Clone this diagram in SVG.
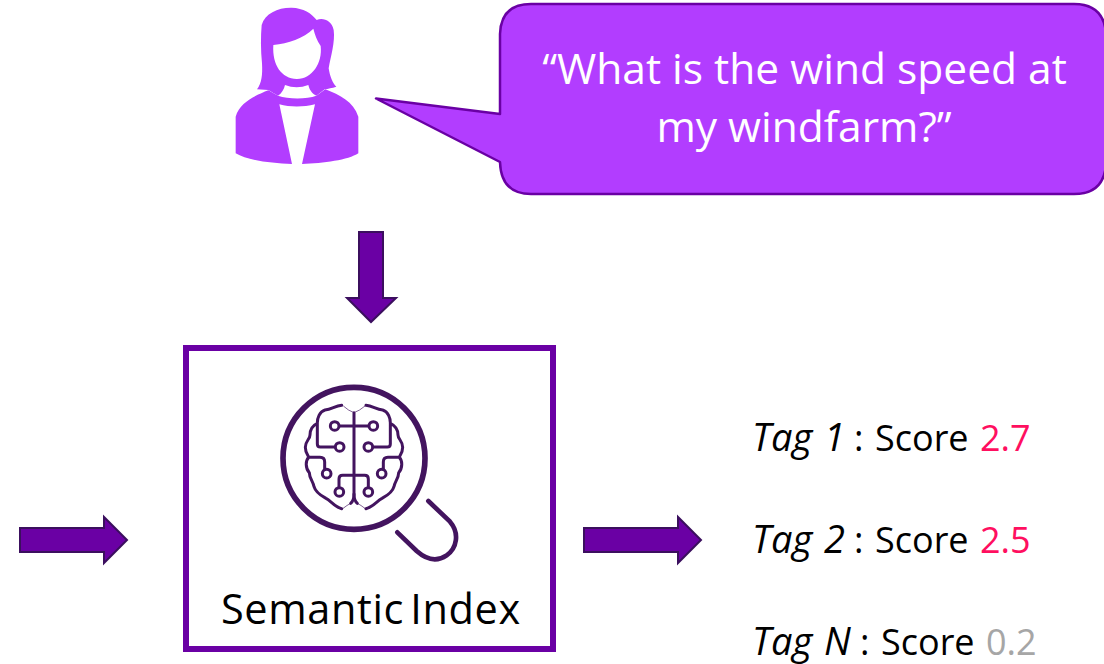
<svg xmlns="http://www.w3.org/2000/svg" width="1104" height="664" viewBox="0 0 1104 664">
<style>
text{font-family:"Open Sans","Noto Sans","Liberation Sans",sans-serif}
.arrow{fill:#6a00a4;stroke:#3b0f5e;stroke-width:2}
.q{font-size:42.500px;fill:#fff;text-anchor:middle}
.t{font-size:36px;fill:#000}
.tag{font-style:italic;font-size:38px;word-spacing:2px}
.hi{fill:#ff0f5f}
.lo{fill:#a6a6a6}
.b{fill:none;stroke:#43145f;stroke-width:9;stroke-linecap:round;stroke-linejoin:round}
.thin{fill:none;stroke:#43145f;stroke-width:2}
.c{fill:#fff;stroke:#43145f;stroke-width:9}
</style>
<g id="user" transform="translate(220 0) scale(.33333)">
<path fill="#b23dff" fill-rule="evenodd" d="M111 268C125 250 128 225 126 190C122 150 122 110 125 75C135 40 175 22 215 23C250 24 275 40 290 60C310 52 335 62 341 90C346 125 332 170 326 205C330 230 338 250 349 260C335 264 325 266 314 268L289 287C275 280 268 268 265 255Q230 268 195 255C192 268 185 280 174 287L145 270ZM160 135C205 130 250 115 280 86C285 105 290 120 302 138C308 190 275 238 230 237C185 236 156 195 160 135Z"/>
<path fill="#b23dff" d="M145 271C110 285 60 305 47 350L47 460C80 480 150 490 216 492L178 313C210 322 250 322 285 313L246 492C310 490 385 480 415 460L415 350C400 305 360 285 316 268L289 287C260 298 205 298 174 287Z"/>
</g>
<g id="speech">
<path fill="#b23dff" stroke="#6a00a4" stroke-width="2.500" stroke-linejoin="round" d="M531 4H1074Q1104 4 1106 34V164Q1104 194 1074 194H531Q501 194 500 162L376 98.500L500 114V34Q501 4 531 4Z"/>
<text class="q" x="804.500" y="84">“What is the wind speed at</text>
<text class="q" x="804" y="142">my windfarm?”</text>
</g>
<g id="connectors">
<path class="arrow" d="M359 232H383V298H396L371 322L347 298H359Z"/>
<path class="arrow" d="M20 528H104V517L127 540L104 563V552H20Z"/>
<path class="arrow" d="M584 528H678V517L701 540L678 563V552H584Z"/>
</g>
<g id="semantic-index">
<rect x="186" y="348" width="367" height="301" fill="#fff" stroke="#6a00a4" stroke-width="6"/>
<g transform="translate(260 370) scale(.33333)">
<circle cx="282" cy="265" r="213" fill="none" stroke="#43145f" stroke-width="17"/>
<path fill="none" stroke="#43145f" stroke-width="14" stroke-linecap="round" d="M505 393L570 455C600 490 590 535 560 556C525 580 495 565 470 543L412 487"/>
<path class="b" d="M282 128V372C282 385 278 395 272 400"/>
<path class="b" d="M282 372C282 385 286 395 292 400"/>
<path class="thin" d="M282 128Q265 122 250 108M282 128Q299 122 315 108M272 400Q262 405 248 416M292 400Q302 405 316 416"/>
<path class="b" d="M245 106C225 108 215 118 195 120C178 125 172 145 172 158V222Q172 231 181 231H222M172 160C155 168 150 180 150 195C150 208 136 212 136 232C136 250 146 258 146 262H180Q194 262 194 276V300M146 262C136 272 136 295 148 308C148 325 160 335 162 350C168 370 185 378 198 385C212 392 225 412 245 416"/>
<path class="b" d="M318 106C338 108 348 118 368 120C385 125 391 145 391 158V222Q391 231 382 231H341M391 160C408 168 414 180 414 195C414 208 428 212 428 232C428 250 418 258 418 262H384Q370 262 370 276V300M418 262C428 272 428 295 416 308C416 325 404 335 402 350C396 370 379 378 366 385C352 392 338 412 318 416"/>
<path class="b" d="M240 168H325M237 352V327Q237 316 248 316H314Q325 316 325 327V352"/>
<circle class="c" cx="224" cy="168" r="13"/><circle class="c" cx="340" cy="168" r="13"/>
<circle class="c" cx="239" cy="231" r="13"/><circle class="c" cx="325" cy="231" r="13"/>
<circle class="c" cx="200" cy="311" r="13"/><circle class="c" cx="365" cy="311" r="13"/>
<circle class="c" cx="238" cy="366" r="13"/><circle class="c" cx="325" cy="366" r="13"/>
</g>
<text x="221" y="624" font-size="41.500" letter-spacing=".6" word-spacing="-5" fill="#000">Semantic Index</text>
</g>
<g id="tag-1"><text class="t" y="451"><tspan class="tag" x="752">Tag 1</tspan> <tspan x="854">: </tspan><tspan x="875">Score </tspan><tspan class="hi" x="980">2.7</tspan></text></g>
<g id="tag-2"><text class="t" y="553"><tspan class="tag" x="752">Tag 2</tspan> <tspan x="854">: </tspan><tspan x="875">Score </tspan><tspan class="hi" x="980">2.5</tspan></text></g>
<g id="tag-n"><text class="t" y="655"><tspan class="tag" x="752">Tag N</tspan> <tspan x="860">: </tspan><tspan x="881">Score </tspan><tspan class="lo" x="986">0.2</tspan></text></g>
</svg>
